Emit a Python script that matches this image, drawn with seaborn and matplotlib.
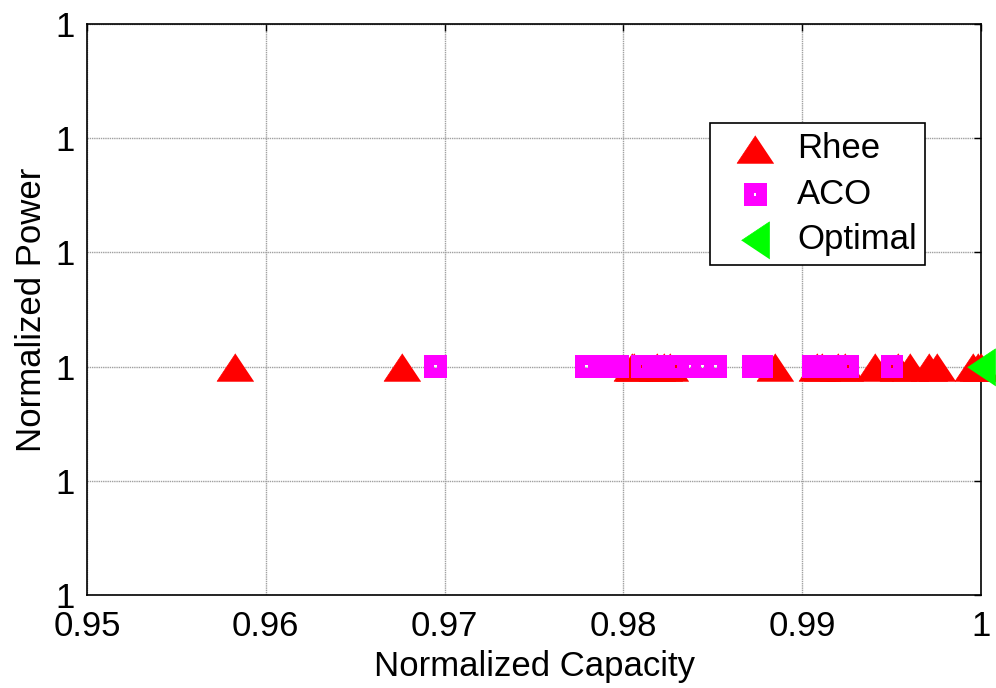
import matplotlib
matplotlib.use("Agg")
import matplotlib.pyplot as plt
from matplotlib.path import Path
import numpy as np
import pandas as pd
import seaborn as sns

# Normalized capacity reached by each method (normalized power is 1 for all runs)
rhee_capacity = [0.95829, 0.96764, 0.98046, 0.98057, 0.98186, 0.98225, 0.98259,
                 0.98847, 0.99082, 0.99110, 0.99199, 0.99239, 0.99406, 0.99535,
                 0.99602, 0.99709, 0.99754, 0.99955, 0.99983, 1.00000]
aco_capacity = [0.96948, 0.97794, 0.97917, 0.97968, 0.98107, 0.98169, 0.98225,
                0.98292, 0.98371, 0.98443, 0.98516, 0.98729, 0.98774, 0.99065,
                0.99115, 0.99166, 0.99255, 0.99502]
optimal_capacity = [1.00000]

rhee_power = [1.0] * len(rhee_capacity)
aco_power = [1.0] * len(aco_capacity)
optimal_power = [1.0] * len(optimal_capacity)

x_ticks = [0.95, 0.96, 0.97, 0.98, 0.99, 1.00]
x_tick_labels = ["0.95", "0.96", "0.97", "0.98", "0.99", "1"]
y_ticks = [1 - 2e-6, 1 - 1e-6, 1.0, 1 + 1e-6, 1 + 2e-6, 1 + 3e-6]
y_tick_labels = ["1", "1", "1", "1", "1", "1"]

rhee = pd.DataFrame({"capacity": rhee_capacity, "power": rhee_power})
aco = pd.DataFrame({"capacity": aco_capacity, "power": aco_power})
optimal = pd.DataFrame({"capacity": optimal_capacity, "power": optimal_power})

sns.set_theme(style="white")
plt.rcParams["font.family"] = ["Liberation Sans", "DejaVu Sans"]
plt.rcParams["text.color"] = "black"
plt.rcParams["axes.labelcolor"] = "black"

fig, ax = plt.subplots(figsize=(9.96, 6.88), dpi=100)
fig.subplots_adjust(left=0.0873, right=0.985, top=0.965, bottom=0.1352)

# wide, flat triangle pointing up; narrow triangle pointing left
tri_up = [(0, 0.75), (-1, -0.75), (1, -0.75)]
tri_left = [(-0.75, 0), (0.75, 1), (0.75, -1)]

# square with a small see-through hole in the middle
h = 0.11
square_hole = Path(
    [(-1, -1), (1, -1), (1, 1), (-1, 1), (-1, -1),
     (-h, -h), (-h, h), (h, h), (h, -h), (-h, -h)],
    [Path.MOVETO, Path.LINETO, Path.LINETO, Path.LINETO, Path.CLOSEPOLY,
     Path.MOVETO, Path.LINETO, Path.LINETO, Path.LINETO, Path.CLOSEPOLY],
)

sns.scatterplot(data=rhee, x="capacity", y="power", ax=ax, marker=tri_up,
                s=700, color="#ff0000", edgecolor="#ff0000", linewidth=0.5,
                label="Rhee", clip_on=False, zorder=3)
sns.scatterplot(data=aco, x="capacity", y="power", ax=ax, marker=square_hole,
                s=270, color="#ff00ff", edgecolor="none", linewidth=0,
                label="ACO", clip_on=False, zorder=4)
sns.scatterplot(data=optimal, x="capacity", y="power", ax=ax, marker=tri_left,
                s=720, color="#00ff00", edgecolor="#00ff00", linewidth=0.5,
                label="Optimal", clip_on=False, zorder=5)

ax.set_xlim(0.95, 1.0)
ax.set_ylim(y_ticks[0], y_ticks[-1])
ax.set_xticks(x_ticks)
ax.set_xticklabels(x_tick_labels)
ax.set_yticks(y_ticks)
ax.set_yticklabels(y_tick_labels)

ax.grid(True, color="#a0a0a0", linestyle=(0, (1, 0.6)), linewidth=1.0, zorder=0)
ax.set_axisbelow(True)
for side in ["top", "bottom", "left", "right"]:
    ax.spines[side].set_visible(True)
    ax.spines[side].set_color("black")
    ax.spines[side].set_linewidth(1.2)
ax.tick_params(axis="both", direction="in", length=5, width=1, color="black",
               top=True, right=True, labelsize=25, labelcolor="black")
ax.tick_params(axis="x", pad=10.5)
ax.tick_params(axis="y", pad=9)

ax.set_xlabel("Normalized Capacity", fontsize=25, color="black", labelpad=5)
ax.set_ylabel("Normalized Power", fontsize=25, color="black", labelpad=5)

leg = ax.legend(loc="upper left", bbox_to_anchor=(0.697, 0.8266),
                borderaxespad=0, fontsize=25, frameon=True, fancybox=False,
                handletextpad=0.16, labelspacing=0.37, borderpad=0.25,
                handlelength=2.09)
leg.get_frame().set_edgecolor("black")
leg.get_frame().set_linewidth(1.2)
leg.get_frame().set_alpha(1)
for txt in leg.get_texts():
    txt.set_color("black")

fig.savefig("out.png", dpi=100)
